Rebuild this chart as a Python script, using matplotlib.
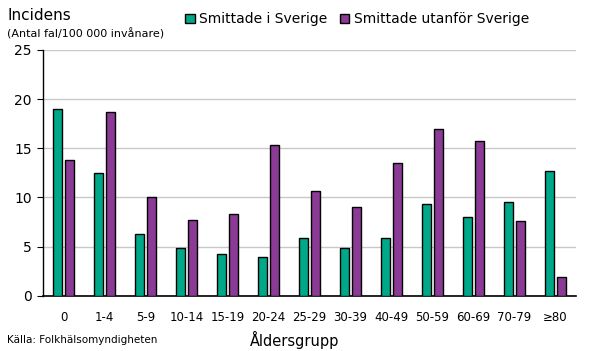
import matplotlib
matplotlib.use("Agg")
import matplotlib.pyplot as plt
import numpy as np

categories = ["0", "1-4", "5-9", "10-14", "15-19", "20-24", "25-29", "30-39",
              "40-49", "50-59", "60-69", "70-79", "≥80"]
sverige = [19.0, 12.5, 6.3, 4.85, 4.3, 4.0, 5.9, 4.85, 5.9, 9.3, 8.0, 9.5, 12.7]
utanfor = [13.8, 18.7, 10.0, 7.7, 8.3, 15.3, 10.7, 9.0, 13.55, 17.0, 15.75, 7.6, 1.96]
yticks = [0, 5, 10, 15, 20, 25]

green = "#00A88A"
purple = "#8B3A96"

fig = plt.figure(figsize=(5.9, 3.51), dpi=100)
ax = fig.add_axes([0.073, 0.157, 0.903, 0.701])

x = np.arange(len(categories))
w = 0.22
off = 0.145
ax.bar(x - off, sverige, w, color=green, edgecolor="black", linewidth=1.0,
       label="Smittade i Sverige", zorder=3)
ax.bar(x + off, utanfor, w, color=purple, edgecolor="black", linewidth=1.0,
       label="Smittade utanför Sverige", zorder=3)

ax.set_xlim(-0.5, len(categories) - 0.5)
ax.set_ylim(0, 25)
ax.set_yticks(yticks)
ax.set_xticks(x)
ax.set_xticklabels(categories, fontsize=8.5)
ax.tick_params(axis="x", length=0, pad=11)
ax.tick_params(axis="y", length=4, labelsize=10, pad=4)
ax.yaxis.grid(True, color="#c8c8c8", linewidth=1.0, zorder=0)
ax.set_axisbelow(True)
for s in ["top", "right"]:
    ax.spines[s].set_visible(False)
ax.spines["left"].set_linewidth(1.0)
ax.spines["bottom"].set_linewidth(1.2)

fig.text(0.012, 0.955, "Incidens", fontsize=11, va="center", ha="left")
fig.text(0.012, 0.905, "(Antal fal/100 000 invånare)", fontsize=8, va="center", ha="left")
fig.text(0.012, 0.03, "Källa: Folkhälsomyndigheten", fontsize=7.5, va="center", ha="left")
fig.text(0.50, 0.03, "Åldersgrupp", fontsize=10.5, va="center", ha="center")

leg = fig.legend(loc="center", bbox_to_anchor=(0.605, 0.945), ncol=2, frameon=False,
                 fontsize=10, handlelength=0.7, handleheight=0.7, handletextpad=0.3,
                 columnspacing=0.9)

fig.savefig("out.png", dpi=100)
